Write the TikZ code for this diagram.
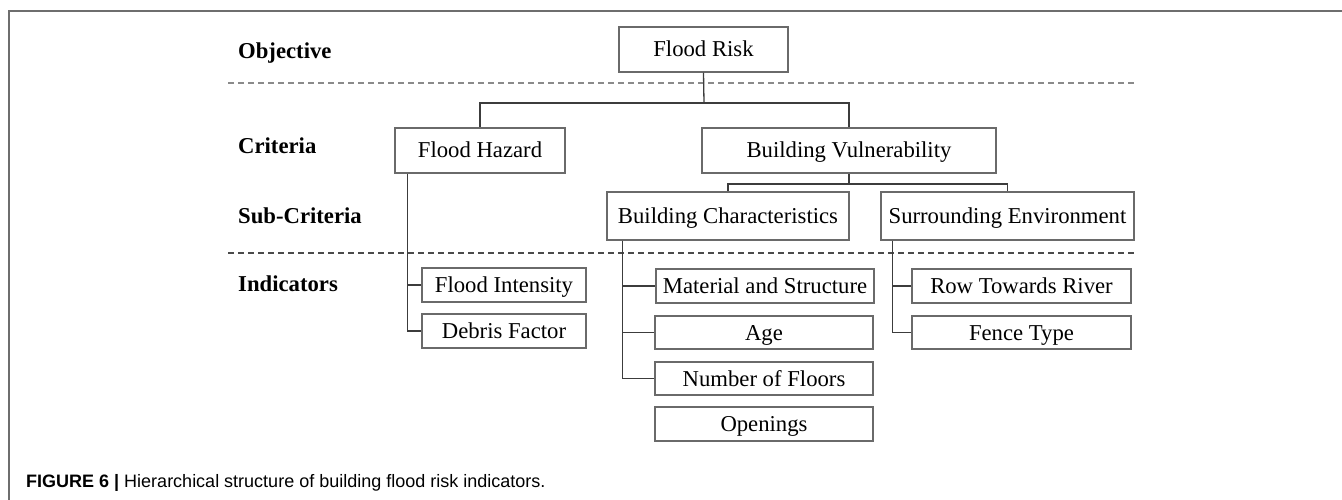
\documentclass[tikz,border=0pt]{standalone}
\usepackage{fontspec}
\setmainfont{Liberation Serif}
\newfontfamily\capfont{Liberation Sans}
\usetikzlibrary{calc}
\definecolor{boxgray}{HTML}{6A6A6A}
\definecolor{linegray}{HTML}{3C3C3C}
\definecolor{dashgray}{HTML}{8A8A8A}
\definecolor{dashdark}{HTML}{4A4A4A}
\definecolor{framegray}{HTML}{6E6E6E}
\begin{document}
\begin{tikzpicture}[x=1pt,y=-1pt,
  box/.style={draw=boxgray, line width=1.2pt, inner sep=0pt, align=center,
    text height=15pt, text depth=0pt,
    font=\fontsize{22.7}{26}\selectfont},
  conn/.style={draw=linegray, line width=1.3pt},
  levellabel/.style={anchor=west, inner sep=0pt, text height=15pt, text depth=0pt,
    font=\fontsize{22.7}{26}\selectfont\bfseries},
  sep/.style={line width=1.2pt, dash pattern=on 6pt off 4pt}]
\useasboundingbox (0,0) rectangle (1342,500);

% outer frame (top and left rules)
\draw[framegray, line width=1.5pt] (9,500) -- (9,11) -- (1342,11);

% level labels
\node[levellabel] (lobj) at (238,51) {Objective};
\node[levellabel] (lcrit) at (238,146) {Criteria};
\node[levellabel] (lsub) at (238,215.5) {Sub-Criteria};
\node[levellabel] (lind) at (238,284) {Indicators};

% separators between levels
\draw[sep, dashgray] (228,83) -- (1137,83);
\draw[sep, dashdark] (228,253) -- (1136,253);

% objective and criteria
\node[box, minimum width=169pt, minimum height=45pt] (FR) at (703.5,49.5) {Flood Risk};
\node[box, minimum width=170pt, minimum height=45pt] (FH) at (480,150.5) {Flood Hazard};
\node[box, minimum width=294pt, minimum height=45pt] (BV) at (849,150.5) {Building Vulnerability};

% sub-criteria
\node[box, minimum width=242pt, minimum height=48pt] (BC) at (728,216) {Building Characteristics};
\node[box, minimum width=253pt, minimum height=48pt] (SE) at (1007.5,216) {Surrounding Environment};

% indicators
\node[box, minimum width=164pt, minimum height=34pt] (FI) at (504,285) {Flood Intensity};
\node[box, minimum width=164pt, minimum height=34pt] (DF) at (504,331) {Debris Factor};
\node[box, minimum width=218pt, minimum height=34pt] (MS) at (765,286) {Material and Structure};
\node[box, minimum width=218pt, minimum height=33pt] (AG) at (764,332.5) {Age};
\node[box, minimum width=218pt, minimum height=33pt] (NF) at (764,378.5) {Number of Floors};
\node[box, minimum width=218pt, minimum height=34pt] (OP) at (764,424) {Openings};
\node[box, minimum width=219pt, minimum height=34pt] (RT) at (1021.5,286) {Row Towards River};
\node[box, minimum width=219pt, minimum height=33pt] (FT) at (1021.5,332.5) {Fence Type};

% tree connectors
\coordinate (j1) at (704,103);
\draw[conn] (FR.south) -- (j1);
\draw[conn] (j1) -| (FH.north);
\draw[conn] (j1) -| (BV.north);

\coordinate (j2) at (849,184);
\draw[conn] (BV.south) -- (j2);
\draw[conn] (j2) -| (BC.north);
\draw[conn] (j2) -| (SE.north);

\coordinate (fhs) at ([xshift=13pt]FH.south west);
\draw[conn] (fhs) |- (DF.west);
\draw[conn] (fhs) |- (FI.west);

\coordinate (bcs) at ([xshift=16pt]BC.south west);
\draw[conn] (bcs) |- (NF.west);
\draw[conn] (bcs) |- (AG.west);
\draw[conn] (bcs) |- (MS.west);

\coordinate (ses) at ([xshift=12pt]SE.south west);
\draw[conn] (ses) |- (FT.west);
\draw[conn] (ses) |- (RT.west);

% caption
\node[anchor=base west, inner sep=0pt, font=\capfont\fontsize{18}{20}\selectfont] (cap) at (26,487)
  {\textbf{FIGURE 6 |} Hierarchical structure of building flood risk indicators.};
\end{tikzpicture}
\end{document}
